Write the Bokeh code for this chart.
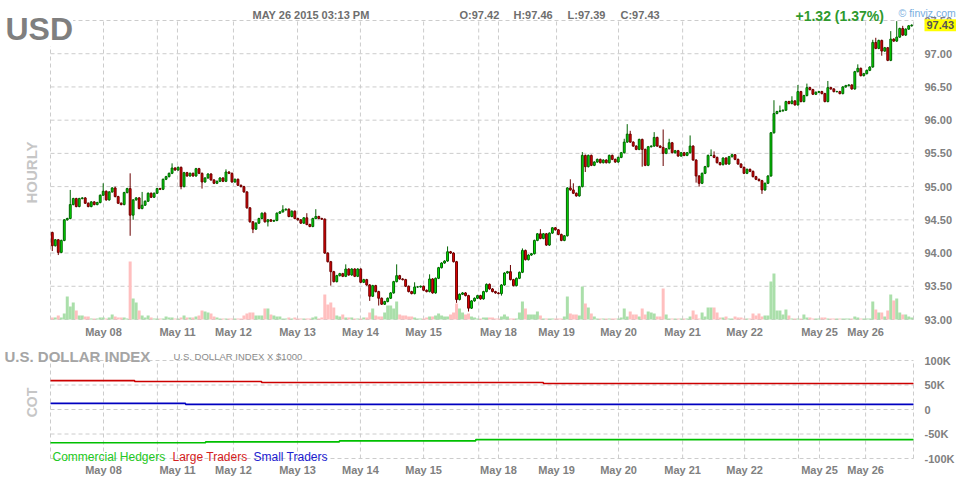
import math
from bokeh.plotting import figure
from bokeh.models import Range1d, Label, ColumnDataSource
from bokeh.core.properties import value
from bokeh.embed import file_html
from bokeh.resources import INLINE

# ---------------- data (hourly USD index candles, May 7 - May 26 2015) ----------------
first_open = 94.31
closes = [
    94.11, 94.20, 94.01, 94.19, 94.50, 94.52, 94.73, 94.82, 94.70, 94.82,
    94.83, 94.75, 94.70, 94.77, 94.73, 94.76, 94.87, 94.93, 94.80, 94.92,
    94.98, 94.85, 94.75, 94.73, 94.91, 94.97, 94.57, 94.80, 94.83, 94.67,
    94.72, 94.78, 94.90, 94.84, 94.90, 94.97, 94.96, 95.11, 95.15, 95.20,
    95.28, 95.25, 95.29, 95.00, 95.21, 95.16, 95.20, 95.16, 95.27, 95.20,
    95.07, 95.13, 95.19, 95.10, 95.05, 95.08, 95.13, 95.08, 95.22, 95.20,
    95.07, 95.11, 95.02, 95.00, 94.92, 94.68, 94.47, 94.36, 94.45, 94.52,
    94.60, 94.47, 94.50,
    94.48, 94.49, 94.60, 94.62, 94.65, 94.66, 94.55, 94.63, 94.52, 94.50,
    94.45, 94.53, 94.43, 94.40, 94.52, 94.55, 94.52, 94.51, 94.00, 93.87,
    93.72, 93.57, 93.66, 93.69, 93.65, 93.76, 93.67, 93.76, 93.65, 93.76,
    93.56, 93.60, 93.52, 93.35, 93.51, 93.42, 93.32, 93.23, 93.27, 93.32,
    93.40, 93.57, 93.66, 93.61, 93.60, 93.50, 93.42, 93.39, 93.49, 93.49,
    93.50, 93.44, 93.42, 93.61, 93.40, 93.62, 93.78, 93.85, 93.88, 94.02,
    94.00, 93.87, 93.30, 93.38, 93.40, 93.36, 93.17, 93.28, 93.32, 93.36,
    93.31, 93.42, 93.53, 93.46,
    93.42, 93.40, 93.39, 93.52, 93.70, 93.72, 93.60, 93.51, 93.62, 93.71,
    94.04, 93.90, 93.97, 93.99, 94.19, 94.29, 94.22, 94.29, 94.12, 94.30,
    94.38, 94.35, 94.28, 94.19, 94.26, 94.98, 94.95, 94.90, 94.86, 95.00,
    95.47, 95.30, 95.47, 95.32, 95.37, 95.41, 95.36, 95.40, 95.36, 95.47,
    95.41, 95.37, 95.44, 95.51, 95.67, 95.79, 95.67, 95.61, 95.56, 95.71,
    95.56, 95.32, 95.60, 95.61, 95.74, 95.61, 95.59, 95.50, 95.57, 95.66,
    95.51, 95.54, 95.46, 95.51, 95.47, 95.51, 95.61, 95.40, 95.16, 95.05,
    95.20, 95.30, 95.47,
    95.47, 95.44, 95.36, 95.33, 95.43, 95.34, 95.45, 95.48, 95.41, 95.34,
    95.29, 95.20, 95.26, 95.23, 95.15, 95.11, 95.09, 94.95, 95.05, 95.16,
    95.81, 96.10, 96.13, 96.14, 96.15, 96.28, 96.25, 96.29, 96.23, 96.43,
    96.28, 96.37, 96.49, 96.46, 96.39, 96.42, 96.43, 96.40, 96.28, 96.49,
    96.47, 96.43, 96.43, 96.40, 96.50, 96.52, 96.53, 96.47, 96.73, 96.78,
    96.67, 96.70, 96.75, 96.80, 97.17, 97.08, 97.20, 97.04, 97.09, 96.90,
    97.22, 97.19, 97.25, 97.38, 97.28, 97.37, 97.42, 97.43,
]

volumes = [
    2, 2, 4, 2, 6, 23, 13, 17, 9, 4,
    4, 3, 3, 1, 1, 1, 2, 2, 1, 2,
    5, 3, 2, 2, 2, 1, 58, 21, 17, 9,
    4, 2, 4, 2, 1, 1, 1, 1, 3, 2,
    2, 1, 1, 2, 4, 2, 2, 2, 3, 4,
    9, 8, 7, 6, 3, 2, 1, 1, 1, 1,
    1, 1, 1, 1, 4, 6, 7, 7, 4, 4,
    4, 11, 11,
    5, 4, 3, 3, 1, 1, 2, 1, 2, 1,
    1, 1, 1, 1, 2, 3, 1, 2, 25, 15,
    17, 12, 4, 3, 5, 2, 2, 2, 1, 1,
    1, 2, 2, 7, 11, 4, 3, 3, 7, 14,
    14, 11, 18, 5, 4, 4, 3, 3, 2, 1,
    1, 1, 2, 3, 3, 4, 6, 4, 3, 3,
    5, 7, 16, 11, 7, 5, 6, 3, 2, 1,
    1, 2, 2, 2,
    2, 1, 1, 3, 5, 3, 1, 1, 1, 7,
    18, 11, 5, 5, 5, 8, 4, 1, 1, 1,
    1, 1, 1, 1, 3, 23, 6, 5, 5, 4,
    33, 16, 12, 6, 3, 1, 1, 1, 1, 1,
    1, 1, 1, 2, 11, 3, 8, 5, 5, 3,
    11, 5, 8, 7, 6, 3, 3, 31, 5, 1,
    1, 1, 1, 1, 1, 1, 3, 9, 5, 1,
    7, 3, 12,
    12, 12, 7, 2, 2, 3, 1, 1, 3, 2,
    2, 1, 1, 1, 6, 4, 6, 3, 4, 4,
    38, 46, 9, 9, 5, 10, 4, 1, 1, 1,
    1, 5, 2, 2, 1, 1, 1, 2, 2, 1,
    1, 1, 1, 1, 1, 1, 1, 1, 3, 2,
    1, 1, 1, 1, 18, 10, 7, 7, 3, 9,
    25, 19, 21, 7, 5, 5, 3, 2,
]

high_wicks = {6: 94.95, 17: 95.05, 21: 95.00, 26: 95.20, 30: 94.92, 40: 95.35, 58: 95.26,
              71: 94.62, 77: 94.72, 85: 94.60, 88: 94.66, 98: 93.83, 115: 93.83, 121: 93.56,
              126: 93.68, 132: 94.10, 153: 93.82, 157: 94.07, 163: 94.36, 173: 95.11,
              174: 95.05, 177: 95.52, 191: 95.72, 192: 95.94, 193: 95.84, 201: 95.82,
              204: 95.86, 206: 95.72, 213: 95.77, 220: 95.56, 221: 95.53, 241: 96.30,
              243: 96.22, 247: 96.36, 249: 96.53, 252: 96.55, 259: 96.59, 269: 96.84,
              274: 97.21, 275: 97.24, 280: 97.34, 282: 97.49, 284: 97.42}
low_wicks = {0: 94.03, 2: 93.97, 26: 94.26, 27: 94.50, 43: 94.96, 50: 94.97, 67: 94.30,
             72: 94.40, 93: 93.51, 106: 93.28, 109: 93.21, 135: 93.25, 139: 93.12,
             150: 93.36, 178: 95.22, 197: 95.30, 204: 95.31, 215: 95.06, 216: 95.00,
             237: 94.89, 277: 96.97}

# day boundaries (candle index where each day starts) and their labels
day_starts = [17.1, 35.1, 41.8, 60.5, 81.9, 102.9, 124.0, 142.4, 149.0, 168.4,
              189.1, 210.5, 231.2, 249.2, 256.2, 271.6]
day_labels = ["May 08", "", "May 11", "May 12", "May 13", "May 14", "May 15", "",
              "May 18", "May 19", "May 20", "May 21", "May 22", "", "May 25", "May 26"]

price_ticks = [93.0, 93.5, 94.0, 94.5, 95.0, 95.5, 96.0, 96.5, 97.0, 97.5]
cot_ticks = [-100000, -50000, 0, 50000, 100000]
cot_tick_labels = ["-100K", "-50K", "0", "50K", "100K"]

# COT step series: candle index where value changes, value
large_idx = [-0.6, 27.5, 69.9, 164.0]
large_val = [59000, 57000, 55000, 53000]
small_idx = [-0.6, 44.5]
small_val = [12500, 10500]
comm_idx = [-0.6, 51.2, 95.9, 141.4]
comm_val = [-68000, -66000, -64000, -61500]

# ---------------- layout geometry (pixels of the 964x480 canvas) ----------------
W, H = 964, 480
PX_L, PX_R = 50, 913          # left/right edge of both panels
X_LO, X_HI = -0.6, 287.6      # candle-index range covered by the panels
PY_TOP, PY_BOT = 20, 319      # price panel: 97.50 ... 93.00
P_HI, P_LO = 97.5, 93.0
CY_TOP, CY_BOT = 360, 458     # COT panel: 100K ... -100K
C_HI, C_LO = 100000, -100000

PXU = (PX_R - PX_L) / (X_HI - X_LO)
PPU = (PY_BOT - PY_TOP) / (P_HI - P_LO)
CPU = (CY_BOT - CY_TOP) / (C_HI - C_LO)


def xd(px):
    return X_LO + (px - PX_L) / PXU


def yd(py):
    return P_LO + (PY_BOT - py) / PPU


def cd(py):
    return C_LO + (CY_BOT - py) / CPU


FONT = "Liberation Sans"
GRID = "#cccccc"
DASH = "4 3"
UP_FILL, UP_EDGE = "#00e800", "#006400"
DN_FILL, DN_EDGE = "#e80000", "#6a0000"
VOL_UP, VOL_DN = "#aadfaa", "#ffbfbf"
AXIS_TXT = "#808080"

n = len(closes)
xs = list(range(n))
opens = [first_open] + closes[:-1]
highs, lows, top, bot, fill, edge, vcol = [], [], [], [], [], [], []
for i in range(n):
    o, c = opens[i], closes[i]
    hi = max(o, c, high_wicks.get(i, max(o, c) + 0.012))
    lo = min(o, c, low_wicks.get(i, min(o, c) - 0.012))
    highs.append(hi)
    lows.append(lo)
    top.append(max(o, c))
    bot.append(min(o, c))
    up = c >= o
    fill.append(UP_FILL if up else DN_FILL)
    edge.append(UP_EDGE if up else DN_EDGE)
    vcol.append(VOL_UP if up else VOL_DN)

src = ColumnDataSource(dict(x=xs, high=highs, low=lows, top=top, bot=bot,
                            fill=fill, edge=edge, vol=volumes, vcol=vcol))

p = figure(width=W, height=H,
           x_range=Range1d(xd(0), xd(W)), y_range=Range1d(yd(H), yd(0)),
           x_axis_location=None, y_axis_location=None,
           min_border_left=0, min_border_right=0, min_border_top=0, min_border_bottom=0,
           output_backend="svg", toolbar_location=None)
p.outline_line_color = None
p.background_fill_color = "white"
p.border_fill_color = "white"
p.xgrid.visible = False
p.ygrid.visible = False
p.extra_y_ranges = {
    "vol": Range1d(-(H - PY_BOT), PY_BOT),     # 1 volume unit = 1 px
    "cot": Range1d(cd(H), cd(0)),
}

grid_x = [X_LO] + day_starts + [X_HI]

# ---- price panel grid ----
p.segment(x0=grid_x, y0=[P_LO] * len(grid_x), x1=grid_x, y1=[P_HI] * len(grid_x),
          line_color=GRID, line_dash=DASH, line_width=1)
p.segment(x0=[X_LO] * len(price_ticks), y0=price_ticks, x1=[X_HI] * len(price_ticks),
          y1=price_ticks, line_color=GRID, line_dash=DASH, line_width=1)

# ---- volume + candles ----
p.vbar(x="x", width=1.0, top="vol", bottom=0, y_range_name="vol",
       fill_color="vcol", line_color=None, source=src)
p.segment(x0="x", y0="low", x1="x", y1="high", line_color="edge", line_width=1, source=src)
p.vbar(x="x", width=0.62, top="top", bottom="bot", fill_color="fill",
       line_color="edge", line_width=1, source=src)

# ---- price axis labels (right) ----
p.text(x=[xd(924)] * len(price_ticks), y=price_ticks,
       text=["%.2f" % t for t in price_ticks],
       text_font=value(FONT), text_font_size=value("11px"), text_font_style="bold",
       text_color=AXIS_TXT, text_align="left", text_baseline="middle")

# ---- day labels under the price panel and under the COT panel ----
lab_x = [d for d, l in zip(day_starts, day_labels) if l]
lab_t = [l for l in day_labels if l]
p.text(x=lab_x, y=[yd(331)] * len(lab_x), text=lab_t,
       text_font=value(FONT), text_font_size=value("11px"), text_font_style="bold",
       text_color=AXIS_TXT, text_align="center", text_baseline="middle")
p.text(x=lab_x, y=[yd(469)] * len(lab_x), text=lab_t,
       text_font=value(FONT), text_font_size=value("11px"), text_font_style="bold",
       text_color=AXIS_TXT, text_align="center", text_baseline="middle")

# ---- COT panel ----
p.segment(x0=grid_x, y0=[C_LO] * len(grid_x), x1=grid_x, y1=[C_HI] * len(grid_x),
          line_color=GRID, line_dash=DASH, line_width=1, y_range_name="cot")
p.segment(x0=[X_LO] * len(cot_ticks), y0=cot_ticks, x1=[X_HI] * len(cot_ticks),
          y1=cot_ticks, line_color=GRID, line_dash=DASH, line_width=1, y_range_name="cot")
for idx, val, col in [(large_idx, large_val, "#cc0000"),
                      (small_idx, small_val, "#0000c0"),
                      (comm_idx, comm_val, "#00c000")]:
    p.step(x=idx + [X_HI], y=val + [val[-1]], mode="after", line_color=col,
           line_width=1.6, y_range_name="cot")
p.text(x=[xd(924)] * len(cot_ticks), y=cot_ticks, text=cot_tick_labels,
       text_font=value(FONT), text_font_size=value("11px"), text_font_style="bold",
       text_color=AXIS_TXT, text_align="left", text_baseline="middle", y_range_name="cot")


# ---- header / side texts (screen px: x from left, y measured from the bottom) ----
def lab(text, x, y, size, color, style="normal", baseline="alphabetic", align="left",
        angle=0.0, bg=None, pad=None):
    l = Label(x=x, y=H - y, x_units="screen", y_units="screen", text=text,
              text_font=FONT, text_font_size=size, text_color=color,
              text_font_style=style, text_baseline=baseline, text_align=align, angle=angle)
    if bg is not None:
        l.background_fill_color = bg
    if pad is not None:
        l.padding = pad
    p.add_layout(l)
    return l


lab("USD", 5, 28, "32px", "#7f7f7f", "bold", bg="white")
lab("MAY 26 2015 03:13 PM", 252, 14, "11px", "#6e6e6e", "bold")
lab("O:97.42", 459, 14, "11px", "#6e6e6e", "bold")
lab("H:97.46", 513, 14, "11px", "#6e6e6e", "bold")
lab("L:97.39", 567, 14, "11px", "#6e6e6e", "bold")
lab("C:97.43", 620, 14, "11px", "#6e6e6e", "bold")
lab("+1.32 (1.37%)", 795, 15, "14px", "#2e9a2e", "bold")
lab("\u00a9 finviz.com", 898, 12, "10.5px", "#78aee0")
lab("97.43", 924, H - (H - (PY_BOT - (97.43 - P_LO) * PPU)), "11px", "#555555", "bold",
    baseline="middle", bg="#ffff00", pad=2)
lab("HOURLY", 31, 172, "15px", "#c6c6c6", "bold", baseline="middle", align="center",
    angle=math.pi / 2)
lab("U.S. DOLLAR INDEX", 4, 356, "15px", "#a5a5a5", "bold")
lab("U.S. DOLLAR INDEX X $1000", 173, 356, "9.5px", "#8a8a8a")
lab("COT", 31, 402, "14px", "#c6c6c6", "bold", baseline="middle", align="center",
    angle=math.pi / 2)
lab("Commercial Hedgers", 52, 456, "12px", "#22c822")
lab("Large Traders", 172, 456, "12px", "#d42020")
lab("Small Traders", 253, 456, "12px", "#2020d0")

open("out.html", "w").write(file_html(p, INLINE))
